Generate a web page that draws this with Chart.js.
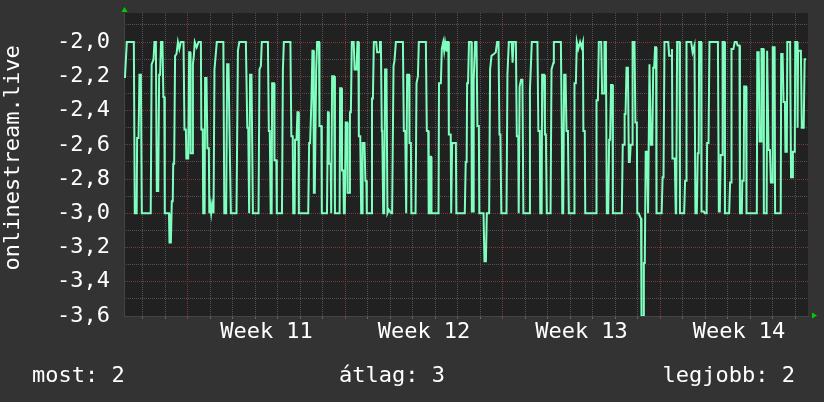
<!DOCTYPE html>
<html><head><meta charset="utf-8">
<script src="https://cdn.jsdelivr.net/npm/chart.js@4/dist/chart.umd.min.js"></script>
<style>
html,body{margin:0;padding:0;background:#333;}
#wrap{position:relative;width:824px;height:402px;overflow:hidden;}
canvas{position:absolute;left:0;top:0;}
.leg{position:absolute;top:362px;font-family:'DejaVu Sans Mono',monospace;font-size:22px;line-height:26px;color:#fff;white-space:pre;}
</style></head><body>
<div id="wrap">
<canvas id="c" width="824" height="402"></canvas>
<div class="leg" style="left:32px">most: 2</div>
<div class="leg" style="left:339px">átlag: 3</div>
<div class="leg" style="right:29px">legjobb: 2</div>
</div>
<script>
// time of each sample, hours since the left edge of the graph
const hours = [
1,3,10.5,11.5,13.5,14,15.5,16.5,18,19,28.5,29.5,31.5,32.5,34,35,36.5,37.5,38.5,39.5,
41,42,43,43.5,48,48.5,50,51,52,52.5,53.5,54.5,56,57.5,59,60.5,63.5,64.5,66,66.5,
68.5,69.5,70.5,71,73,73.5,74.5,75.5,77.5,79.5,82,82.5,84,84.5,86,86.5,88,89,90.5,91,
92,93,94,95.5,96.5,99,106,107,109,110,111.5,112.5,114,120,121.5,123,130,131.5,132.5,133.5,
134.5,136,137.5,143.5,144.5,146,147,153.5,154.5,155.5,156.5,157.5,158,160,160.5,162.5,163,168.5,169.5,170.5,
177.5,178.5,180,180.5,182,182.5,184,185,186,186.5,196.5,197.5,198.5,200,201,202,202.5,203.5,205,206,
208,208.5,210.5,211,216.5,217.5,218,218.5,220.5,221,222,224,225,230,230.5,232,232.5,234,234.5,235.5,
236.5,238,238.5,240.5,241,242,243,245,246,248,249,250,250.5,252,253,254,254.5,256.5,257.5,258.5,
259,264,264.5,265.5,266.5,269,270,272,273,274,275,275.5,276.5,277.5,278.5,280,281,282.5,285,286,
287.5,288.5,290,297.5,298.5,300,301,301.5,302,304,304.5,306,306.5,311,312,313.5,314.5,322,323,324.5,
325,325.5,326,327.5,328,335.5,336,338,339,340.5,341.5,342.5,344,344.5,346,346.5,348.5,349,349.5,350,
354,354.5,363.5,364.5,365.5,366,367,368,370.5,371,372.5,373,374.5,376,377,378.5,379,383.5,384.5,386,
387,389.5,390.5,392,394.5,396.5,398,399.5,400.5,401.5,402.5,408,409,410.5,413.5,414.5,415.5,418,419,420.5,
421,422,423.5,425,426,432.5,433,435,441,442,443.5,444,445.5,446,448,449,450,451,455,456,
458,458.5,466,467,467.5,468.5,469.5,471,472,473.5,474.5,480,480.5,482,483,484.5,486.5,488,489.5,490,
491.5,492,503.5,504,505.5,506.5,509,510,512,512.5,514,515,516.5,517.5,518.5,519.5,521,521.5,531,532,
533.5,534,535,536,537.5,538.5,539.5,540.5,542,542.5,544.5,545.5,547,547.5,549,550.5,551.5,552,554,554.5,
555.5,556.5,558,559,560.5,562,563.5,564.5,565.5,566.5,567.5,568,573.5,574.5,575.5,576.5,580.5,581.5,584,584.5,
585,587.5,588.5,589,590,592.5,593,597.5,598.5,599.5,600,605,606.5,608.5,609.5,611,612,613,613.5,615.5,
616,618.5,619.5,621.5,622,623.5,624.5,633.5,634.5,635.5,636.5,638,638.5,640.5,641,645.5,646.5,647.5,648,650,
651.5,653.5,654.5,656.5,657,659,659.5,661,661.5,663.5,664,675,675.5,677,678,679.5,680,682,682.5,685.5,
686,687.5,689,690,691.5,692,694,694.5,700.5,701,702.5,703.5,705,705.5,707,707.5,710.5,711.5,713,713.5,
715.5,716,718,718.5,719,722,723,725,726,727.5
];
// value of each sample
const values = [
-2.21,-2.0,-2.0,-3.0,-3.0,-2.56,-2.56,-2.19,-2.19,-3.0,-3.0,-2.13,-2.10,-2.0,-2.0,-2.87,-2.87,-2.19,-2.19,-2.0,
-2.0,-2.32,-2.32,-3.0,-3.0,-3.17,-3.17,-2.93,-2.93,-2.71,-2.71,-2.08,-2.07,-2.0,-2.04,-2.0,-2.0,-2.51,-2.51,-2.68,
-2.68,-2.06,-2.06,-2.65,-2.65,-2.13,-2.08,-2.0,-2.03,-2.0,-2.0,-2.51,-2.51,-3.0,-3.0,-2.21,-2.21,-2.62,-2.62,-3.0,
-2.95,-3.0,-2.95,-3.0,-2.16,-2.0,-2.0,-3.0,-3.0,-2.13,-2.13,-2.51,-3.0,-3.0,-2.05,-2.0,-2.0,-2.5,-2.5,-3.0,
-2.19,-2.19,-3.0,-3.0,-2.16,-2.14,-2.0,-2.0,-2.52,-2.52,-3.0,-3.0,-2.24,-2.24,-2.69,-2.69,-3.0,-3.0,-2.16,-2.0,
-2.0,-2.55,-2.55,-3.0,-3.0,-2.57,-2.57,-2.41,-2.41,-3.0,-3.0,-2.59,-2.59,-2.33,-2.05,-2.05,-2.88,-2.88,-2.16,-2.0,
-2.0,-2.49,-2.49,-3.0,-3.0,-2.41,-2.41,-2.71,-2.71,-3.0,-2.2,-2.2,-3.0,-3.0,-2.27,-2.27,-2.75,-2.75,-3.0,-3.0,
-2.47,-2.47,-2.88,-2.88,-2.41,-2.41,-2.0,-2.0,-2.16,-2.16,-2.0,-2.0,-2.55,-2.55,-3.0,-3.0,-2.59,-2.59,-2.81,-2.81,
-3.0,-3.0,-2.33,-2.33,-2.0,-2.0,-2.06,-2.06,-2.0,-2.0,-2.52,-2.52,-3.0,-3.0,-2.16,-2.16,-3.0,-2.98,-3.0,-3.0,
-2.14,-2.11,-2.0,-2.0,-2.52,-2.52,-3.0,-3.0,-2.19,-2.19,-2.59,-2.59,-3.0,-3.0,-2.24,-2.2,-2.0,-2.0,-2.52,-2.52,
-3.0,-3.0,-2.67,-2.67,-3.0,-3.0,-2.24,-2.24,-2.04,-2.0,-2.05,-2.0,-2.05,-2.0,-2.0,-2.54,-2.54,-3.0,-3.0,-2.59,
-2.59,-3.0,-3.0,-2.7,-2.7,-2.24,-2.24,-2.0,-2.0,-2.99,-2.99,-2.22,-2.0,-2.0,-2.49,-2.49,-3.0,-3.0,-3.28,-3.28,
-3.0,-3.0,-2.16,-2.08,-2.07,-2.06,-2.0,-2.0,-2.54,-2.54,-3.0,-3.0,-2.19,-2.0,-2.0,-2.12,-2.0,-2.0,-2.55,-2.55,
-3.0,-2.26,-2.22,-2.22,-3.0,-3.0,-2.28,-2.0,-2.0,-2.52,-2.52,-3.0,-3.0,-2.19,-2.19,-2.54,-2.54,-3.0,-3.0,-2.16,
-2.12,-2.0,-2.0,-2.53,-3.0,-3.0,-2.19,-2.19,-2.52,-2.52,-3.0,-3.0,-2.24,-2.24,-2.0,-2.04,-2.0,-2.03,-2.0,-2.52,
-2.52,-3.0,-3.0,-2.34,-2.34,-2.0,-2.0,-2.3,-2.3,-2.0,-2.0,-3.0,-3.0,-2.57,-2.57,-2.25,-2.25,-3.0,-3.0,-2.6,
-2.6,-2.42,-2.42,-2.15,-2.15,-2.7,-2.7,-2.6,-2.6,-2.0,-2.0,-2.47,-2.47,-3.0,-3.0,-3.02,-3.03,-3.6,-3.6,-3.29,
-3.29,-2.64,-2.64,-3.0,-2.13,-2.6,-2.6,-2.15,-2.15,-2.03,-2.03,-3.0,-3.0,-2.79,-2.79,-2.0,-2.0,-2.08,-2.08,-2.04,
-2.68,-2.68,-3.0,-3.0,-2.0,-2.0,-3.0,-3.0,-2.81,-2.81,-2.0,-2.0,-2.06,-2.02,-3.0,-3.0,-2.65,-2.65,-2.0,-2.0,
-2.99,-2.99,-3.0,-3.0,-2.59,-2.59,-2.0,-2.0,-2.99,-2.99,-2.66,-2.66,-2.0,-2.0,-3.0,-3.0,-2.82,-2.82,-2.04,-2.04,
-2.0,-2.0,-2.02,-2.02,-3.0,-3.0,-2.81,-2.81,-2.26,-2.26,-3.0,-3.0,-2.06,-2.06,-2.58,-2.58,-2.04,-2.04,-3.0,-3.0,
-2.05,-2.63,-2.63,-2.82,-2.82,-2.03,-2.03,-3.0,-3.0,-2.07,-2.07,-2.35,-2.35,-2.64,-2.64,-2.0,-2.0,-2.79,-2.79,-2.64,
-2.64,-2.0,-2.0,-2.5,-2.05,-2.05,-2.5,-2.5,-2.1,-2.1
];

const yTickValues = [-2.0,-2.2,-2.4,-2.6,-2.8,-3.0,-3.2,-3.4,-3.6];
const yMinorValues = [-1.9,-2.1,-2.3,-2.5,-2.7,-2.9,-3.1,-3.3,-3.5];
const weekLabels = ['Week 11','Week 12','Week 13','Week 14'];
const weekLabelHours = [152,320,488,656];
const weekStartHours = [68,236,404,572];
const dayLineHours = [20,44,92,116,140,164,188,212,260,284,308,332,356,380,428,452,476,500,524,548,596,620,644,668,692,716];
const yAxisTitle = ' onlinestream.live';
const X_MIN = 0, X_MAX = 729.6, Y_MIN = -3.6, Y_MAX = -1.83;

const FONT = {family:"'DejaVu Sans Mono', monospace", size:22};
const GRID_MINOR = '#525252';
const GRID_MAJOR = '#7d3838';
const setTicks = vals => s => { s.ticks = vals.map(v => ({value:v})); };

const bgPlugin = {
  id:'bg',
  beforeDraw(chart){
    const {ctx, chartArea:a} = chart;
    ctx.save();
    ctx.fillStyle = '#333333';
    ctx.fillRect(0,0,chart.width,chart.height);
    ctx.fillStyle = '#212121';
    ctx.fillRect(a.left,a.top,a.right-a.left,a.bottom-a.top);
    ctx.restore();
  },
  afterDraw(chart){
    const {ctx, chartArea:a} = chart;
    ctx.save();
    ctx.fillStyle = '#00cc00';
    ctx.beginPath();
    ctx.moveTo(a.left+0.5, a.top-6);
    ctx.lineTo(a.left-2.5, a.top-1);
    ctx.lineTo(a.left+3.5, a.top-1);
    ctx.closePath(); ctx.fill();
    ctx.beginPath();
    ctx.moveTo(a.right+9, a.bottom-0.5);
    ctx.lineTo(a.right+4, a.bottom-3.5);
    ctx.lineTo(a.right+4, a.bottom+2.5);
    ctx.closePath(); ctx.fill();
    ctx.restore();
  }
};

const flatH = h => s => { s.height = h; s.paddingLeft = 0; s.paddingRight = 0; };
const flatW = w => s => { s.width = w; s.paddingTop = 0; s.paddingBottom = 0; };

new Chart(document.getElementById('c'), {
  type:'line',
  data:{datasets:[{
    data: hours.map((h,i)=>({x:h, y:values[i]})),
    xAxisID:'x', yAxisID:'y',
    borderColor:'#7fffbf', borderWidth:2, pointRadius:0, tension:0, fill:false
  }]},
  options:{
    responsive:false, animation:false, devicePixelRatio:1,
    layout:{padding:{left:0, top:13, right:16, bottom:0}},
    plugins:{legend:{display:false}, tooltip:{enabled:false}},
    scales:{
      xDay:{type:'linear', position:'bottom', min:X_MIN, max:X_MAX,
        afterBuildTicks:setTicks(dayLineHours), afterFit:flatH(0),
        ticks:{display:false},
        grid:{color:GRID_MINOR, drawTicks:true, tickLength:3, tickColor:'#6a6a6a', tickBorderDash:[]},
        border:{display:false, dash:[1,1]}},
      xWeek:{type:'linear', position:'bottom', min:X_MIN, max:X_MAX,
        afterBuildTicks:setTicks(weekStartHours), afterFit:flatH(0),
        ticks:{display:false},
        grid:{color:GRID_MAJOR, drawTicks:true, tickLength:3, tickColor:'#a04040', tickBorderDash:[]},
        border:{display:false, dash:[1,1]}},
      x:{type:'linear', position:'bottom', min:X_MIN, max:X_MAX,
        afterBuildTicks:setTicks(weekLabelHours), afterFit:flatH(86),
        ticks:{color:'#ffffff', font:FONT, padding:3, maxRotation:0, autoSkip:false,
          callback:(v,i)=>weekLabels[i]},
        grid:{display:false, drawTicks:false},
        border:{display:true, color:'#444444', width:1}},
      yMinor:{type:'linear', position:'left', min:Y_MIN, max:Y_MAX,
        afterBuildTicks:setTicks(yMinorValues), afterFit:flatW(0),
        ticks:{display:false}, grid:{color:GRID_MINOR, drawTicks:false},
        border:{display:false, dash:[1,1]}},
      y:{type:'linear', position:'left', min:Y_MIN, max:Y_MAX,
        afterBuildTicks:setTicks(yTickValues), afterFit:flatW(124),
        ticks:{color:'#ffffff', font:FONT, padding:14,
          callback:v=>v.toFixed(1).replace('.',',')},
        grid:{color:GRID_MAJOR, drawTicks:false},
        border:{display:true, color:'#444444', width:1, dash:[1,1]},
        title:{display:true, text:yAxisTitle, color:'#ffffff', font:FONT, padding:{top:0,bottom:0}}}
    }
  },
  plugins:[bgPlugin]
});
</script>
</body></html>
